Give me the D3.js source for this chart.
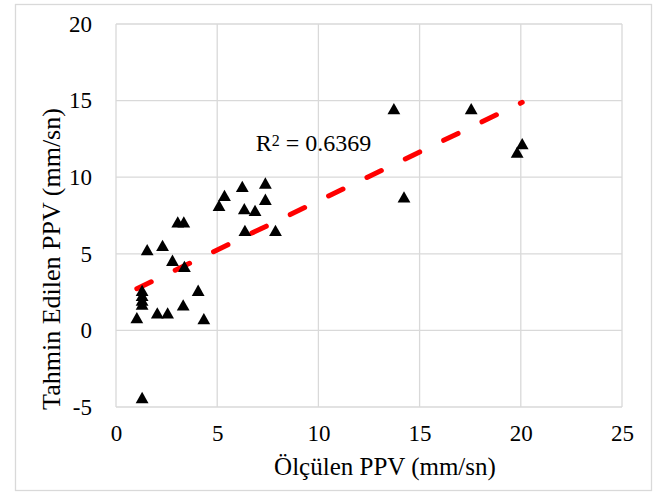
<!DOCTYPE html>
<html>
<head>
<meta charset="utf-8">
<script src="https://cdn.jsdelivr.net/npm/d3@7"></script>
<style>
  body { margin: 0; background: #fff; }
  text { font-family: "Liberation Serif", serif; fill: #000; }
</style>
</head>
<body>
<div id="chart"></div>
<script>
var olculen = [1.29, 1.03, 1.29, 1.29, 1.29, 1.29, 1.54, 2.04, 2.55, 2.30, 2.79, 3.05, 3.35, 3.38, 3.32, 4.06,
               4.34, 5.09, 5.36, 6.24, 6.34, 6.37, 6.87, 7.38, 7.38, 7.88, 13.73, 17.55, 20.07, 19.82, 14.23];
var tahmin  = [-4.39, 0.83, 2.60, 2.28, 1.96, 1.70, 5.26, 1.13, 1.13, 5.54, 4.57, 7.07, 7.07, 4.17, 1.65, 2.61,
               0.76, 8.15, 8.80, 9.39, 7.94, 6.52, 7.83, 9.61, 8.55, 6.52, 14.46, 14.46, 12.18, 11.63, 8.70];
var xTicks = [0, 5, 10, 15, 20, 25];
var yTicks = [-5, 0, 5, 10, 15, 20];
// linear trendline
var trendSlope = 0.639, trendIntercept = 2.06;
var r2Label = "0.6369";

var W = 654, H = 493;
var margin = {top: 24, right: 32, bottom: 86, left: 116};
var width = W - margin.left - margin.right,
    height = H - margin.top - margin.bottom;

var svg = d3.select("#chart").append("svg")
    .attr("width", W)
    .attr("height", H);

// chart frame
svg.append("rect")
    .attr("x", 15.5).attr("y", 4.5)
    .attr("width", 636).attr("height", 486)
    .attr("fill", "none")
    .attr("stroke", "#d9d9d9")
    .attr("stroke-width", 1.3);

var g = svg.append("g")
    .attr("transform", "translate(" + margin.left + "," + margin.top + ")");

var x = d3.scaleLinear().domain([0, 25]).range([0, width]);
var y = d3.scaleLinear().domain([-5, 20]).range([height, 0]);

// grid
g.selectAll(".vgrid")
    .data(xTicks)
    .enter().append("line")
        .attr("class", "vgrid")
        .attr("x1", function(d) { return x(d); })
        .attr("x2", function(d) { return x(d); })
        .attr("y1", 0).attr("y2", height)
        .attr("stroke", "#d9d9d9").attr("stroke-width", 1.3);

g.selectAll(".hgrid")
    .data(yTicks)
    .enter().append("line")
        .attr("class", "hgrid")
        .attr("y1", function(d) { return y(d); })
        .attr("y2", function(d) { return y(d); })
        .attr("x1", 0).attr("x2", width)
        .attr("stroke", "#d9d9d9").attr("stroke-width", 1.3);

// axes (labels only, Excel style); plain hyphen for negatives
var xAxis = g.append("g")
    .attr("transform", "translate(0," + height + ")")
    .call(d3.axisBottom(x).tickValues(xTicks).tickFormat(String).tickSize(0).tickPadding(18));
var yAxis = g.append("g")
    .call(d3.axisLeft(y).tickValues(yTicks).tickFormat(String).tickSize(0).tickPadding(24));
[xAxis, yAxis].forEach(function(a) {
    a.select(".domain").remove();
    a.selectAll("text")
        .style("font-family", "Liberation Serif, serif")
        .style("font-size", "23px")
        .attr("fill", "#000");
});

// trendline
var xMin = d3.min(olculen), xMax = d3.max(olculen);
g.append("line")
    .attr("x1", x(xMin)).attr("y1", y(trendSlope * xMin + trendIntercept))
    .attr("x2", x(xMax)).attr("y2", y(trendSlope * xMax + trendIntercept))
    .attr("stroke", "#ff0000")
    .attr("stroke-width", 5)
    .attr("stroke-linecap", "round")
    .attr("stroke-dasharray", "16,26.6");

// points
var points = d3.zip(olculen, tahmin);
g.selectAll(".pt")
    .data(points)
    .enter().append("path")
        .attr("class", "pt")
        .attr("transform", function(d) { return "translate(" + x(d[0]) + "," + y(d[1]) + ")"; })
        .attr("d", "M0,-5.8L6.4,5.5L-6.4,5.5Z")
        .attr("fill", "#000");

// R² label
var r2 = g.append("text")
    .attr("x", x(6.9))
    .attr("y", y(11.7))
    .style("font-size", "24px");
r2.append("tspan").text("R");
r2.append("tspan").attr("dy", -5).style("font-size", "16px").text("2");
r2.append("tspan").attr("dy", 5).text(" = " + r2Label);

// axis titles
svg.append("text")
    .attr("x", 385)
    .attr("y", 475)
    .attr("text-anchor", "middle")
    .style("font-size", "25px")
    .text("Ölçülen PPV (mm/sn)");

svg.append("text")
    .attr("transform", "translate(60,259)rotate(-90)")
    .attr("text-anchor", "middle")
    .style("font-size", "26px")
    .text("Tahmin Edilen PPV (mm/sn)");
</script>
</body>
</html>
